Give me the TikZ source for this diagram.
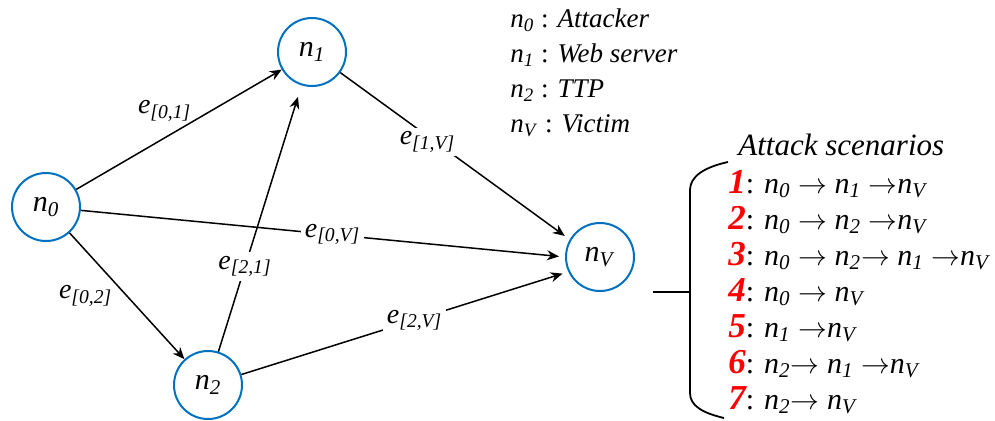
\documentclass[tikz,border=0pt]{standalone}
\usepackage{fontspec}
\setmainfont{Liberation Serif}
\usetikzlibrary{arrows.meta}
\definecolor{nodeblue}{RGB}{0,112,192}
\newcommand{\nd}[1]{\textit{n}\textsubscript{\textit{#1}}}
\newcommand{\ed}[1]{\textit{e}\textsubscript{\textit{[#1]}}}
\newcommand{\scn}[1]{{\fontsize{17.5}{17}\selectfont\color{red}\bfseries\itshape #1}}
\newcommand{\ra}{$\rightarrow$}
\begin{document}
\begin{tikzpicture}[x=0.5pt,y=-0.5pt]

			\tikzstyle{vertex}=[circle,draw=nodeblue,line width=1pt,
				fill=white,minimum size=34pt,inner sep=0pt,
				font=\fontsize{15}{18}\selectfont]
			\tikzstyle{edge}=[line width=0.75pt,
				-{Stealth[length=6pt,width=5pt]}]
			\tikzstyle{elabel}=[font=\fontsize{14}{16}\selectfont,
				inner sep=2pt]
			\tikzstyle{legend}=[anchor=base west,inner sep=0pt,
				font=\fontsize{13.5}{16}\selectfont]
			\tikzstyle{scenario}=[anchor=base west,inner sep=0pt,
				font=\fontsize{15}{18}\selectfont]

			\useasboundingbox (0,0) rectangle (995,420);

			% graph
			\node[vertex]	(n0)	at (46,207)		{\nd{0}};
			\node[vertex]	(n1)	at (312,52)		{\nd{1}};
			\node[vertex]	(n2)	at (208,385)	{\nd{2}};
			\node[vertex]	(nV)	at (600,257)	{\nd{V}};

			\draw[edge] (n0) -- (n1)
				node[elabel,pos=0.43,above=6pt]{\ed{0,1}};
			\draw[edge] (n0) -- (n2)
				node[elabel,pos=0.5,left=5pt]{\ed{0,2}};
			\draw[edge,shorten >=6pt] (n2) -- (n1)
				node[elabel,pos=0.32,fill=white]{\ed{2,1}};
			\draw[edge,shorten >=3pt] (n1) -- (nV.150)
				node[elabel,pos=0.38,fill=white,yshift=-3pt]{\ed{1,V}};
			\draw[edge,shorten >=3pt] (n0) -- (nV.180)
				node[elabel,pos=0.52,fill=white]{\ed{0,V}};
			\draw[edge,shorten >=3pt] (n2) -- (nV.205)
				node[elabel,pos=0.53,fill=white]{\ed{2,V}};

			% legend
			\node[legend]	(l0)	at (510,27)		{\nd{0} : \textit{Attacker}};
			\node[legend]	(l1)	at (510,62)		{\nd{1} : \textit{Web server}};
			\node[legend]	(l2)	at (510,97)		{\nd{2} : \textit{TTP}};
			\node[legend]	(lV)	at (510,132)	{\nd{V} : \textit{Victim}};

			% scenarios
			\node[anchor=base west,inner sep=0pt,
				font=\fontsize{15.5}{18}\selectfont\itshape]
				(title)	at (738,155)	{Attack scenarios};
			\draw[line width=0.9pt] (728,162) .. controls (705,167) and (690,176) .. (690,190)
				-- (690,393) .. controls (690,406) and (703,413) .. (724,418);
			\draw[line width=0.9pt] (653,292) -- (690,292);

			\node[scenario]	(sc1)	at (728,193)	{\scn{1}: \nd{0} \ra{} \nd{1} \ra\nd{V}};
			\node[scenario]	(sc2)	at (728,229)	{\scn{2}: \nd{0} \ra{} \nd{2} \ra\nd{V}};
			\node[scenario]	(sc3)	at (728,265)	{\scn{3}: \nd{0} \ra{} \nd{2}\ra{} \nd{1} \ra\nd{V}};
			\node[scenario]	(sc4)	at (728,301)	{\scn{4}: \nd{0} \ra{} \nd{V}};
			\node[scenario]	(sc5)	at (728,337)	{\scn{5}: \nd{1} \ra\nd{V}};
			\node[scenario]	(sc6)	at (728,373)	{\scn{6}: \nd{2}\ra{} \nd{1} \ra\nd{V}};
			\node[scenario]	(sc7)	at (728,409)	{\scn{7}: \nd{2}\ra{} \nd{V}};

\end{tikzpicture}
\end{document}
